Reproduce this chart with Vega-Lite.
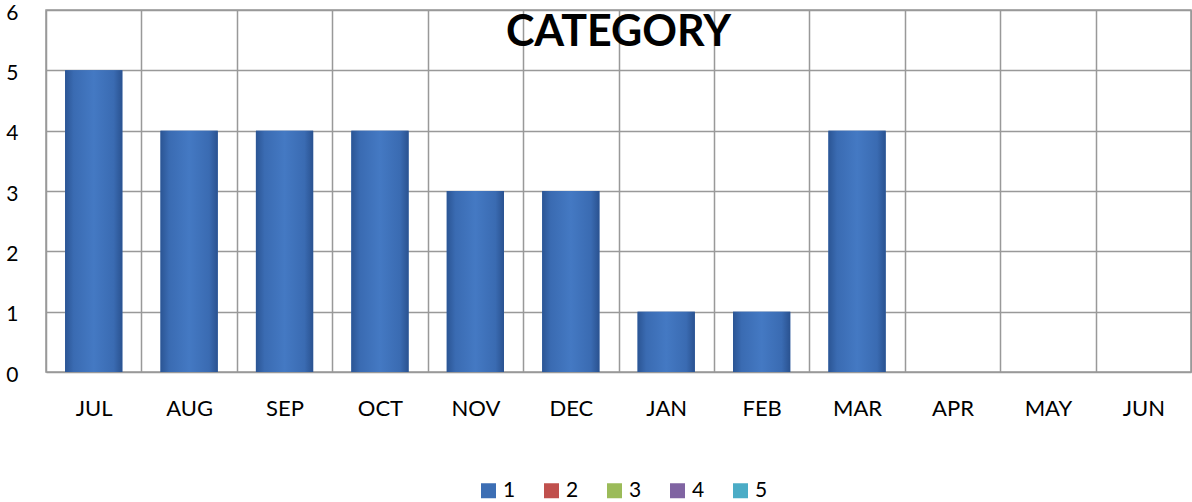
{
  "$schema": "https://vega.github.io/schema/vega-lite/v6.json",
  "width": 1145,
  "height": 362,
  "autosize": {"type": "none"},
  "padding": {"left": 46, "top": 10, "right": 1, "bottom": 130},
  "background": "white",
  "title": {
    "text": "CATEGORY",
    "frame": "group",
    "anchor": "middle",
    "orient": "top",
    "baseline": "alphabetic",
    "offset": 0,
    "dy": 87,
    "font": "Lato",
    "fontSize": 43,
    "fontWeight": "bold",
    "color": "#000000"
  },
  "data": {
    "values": [
      {"month": "JUL", "count": 5, "series": "1"},
      {"month": "AUG", "count": 4, "series": "1"},
      {"month": "SEP", "count": 4, "series": "1"},
      {"month": "OCT", "count": 4, "series": "1"},
      {"month": "NOV", "count": 3, "series": "1"},
      {"month": "DEC", "count": 3, "series": "1"},
      {"month": "JAN", "count": 1, "series": "1"},
      {"month": "FEB", "count": 1, "series": "1"},
      {"month": "MAR", "count": 4, "series": "1"},
      {"month": "APR", "count": 0, "series": "1"},
      {"month": "MAY", "count": 0, "series": "1"},
      {"month": "JUN", "count": 0, "series": "1"}
    ]
  },
  "encoding": {
    "x": {
      "field": "month",
      "type": "nominal",
      "sort": null,
      "scale": {"paddingInner": 0, "paddingOuter": 0},
      "axis": {
        "title": null,
        "labelAngle": 0,
        "labelFont": "Lato",
        "labelFontSize": 22,
        "labelColor": "#000000",
        "labelPadding": 26,
        "ticks": false,
        "domain": false,
        "grid": true,
        "gridColor": "#999999",
        "gridWidth": 1.5,
        "tickBand": "extent"
      }
    },
    "y": {
      "field": "count",
      "type": "quantitative",
      "scale": {"domain": [0, 6], "nice": false},
      "axis": {
        "title": null,
        "values": [0, 1, 2, 3, 4, 5, 6],
        "labelFont": "Lato",
        "labelFontSize": 21,
        "labelColor": "#000000",
        "labelPadding": 28,
        "labelOffset": 3,
        "ticks": false,
        "domain": false,
        "grid": true,
        "gridColor": "#999999",
        "gridWidth": 1.5
      }
    }
  },
  "layer": [
    {
      "mark": {"type": "bar", "width": {"band": 0.6}},
      "encoding": {
        "color": {
          "field": "series",
          "type": "nominal",
          "scale": {
            "domain": ["1", "2", "3", "4", "5"],
            "range": ["#3C6EB4", "#C0504D", "#9BBB59", "#8064A2", "#4BACC6"]
          },
          "legend": {
            "title": null,
            "orient": "none",
            "legendX": 432,
            "legendY": 470,
            "direction": "horizontal",
            "symbolType": "square",
            "symbolSize": 225,
            "symbolStrokeWidth": 0,
            "labelFont": "Lato",
            "labelFontSize": 21,
            "labelColor": "#000000",
            "columnPadding": 25
          }
        }
      }
    },
    {
      "mark": {
        "type": "bar",
        "width": {"band": 0.6},
        "fill": {
          "gradient": "linear",
          "x1": 0, "y1": 0, "x2": 1, "y2": 0,
          "stops": [
            {"offset": 0, "color": "#2B5594"},
            {"offset": 0.15, "color": "#3A6BB2"},
            {"offset": 0.5, "color": "#4479C3"},
            {"offset": 0.85, "color": "#3A6BB2"},
            {"offset": 1, "color": "#2A5290"}
          ]
        }
      },
      "encoding": {}
    }
  ],
  "config": {
    "view": {"stroke": "#999999", "strokeWidth": 1.5}
  }
}
